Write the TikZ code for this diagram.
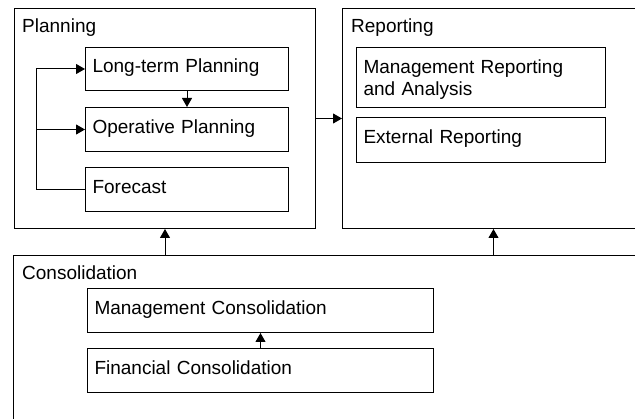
\documentclass[tikz,border=0pt]{standalone}
\usepackage{fontspec}
\setmainfont{Liberation Sans}
\usetikzlibrary{arrows.meta}
\begin{document}
\begin{tikzpicture}[x=1pt,y=-1pt,
  every node/.style={font=\fontsize{19}{22}\selectfont},
  outer/.style={draw, line width=1pt, anchor=north west, inner sep=0pt},
  box/.style={draw, line width=1pt, anchor=north west, inner xsep=7pt, inner ysep=0pt, align=left, minimum height=44pt, text height=13pt, text depth=5pt},
  title/.style={anchor=base west, inner sep=0pt},
  arr/.style={-{Triangle[length=9pt,width=10pt]}, line width=1pt},
  line/.style={line width=1pt}]
\useasboundingbox (0,0) rectangle (635,419);
\clip (0,0) rectangle (635,419);
\fill[white] (0,0) rectangle (635,419);
% outer boxes
\node[outer, minimum width=301pt, minimum height=220pt] (plan) at (14,8) {};
\node[outer, minimum width=302pt, minimum height=220pt] (report) at (342,8) {};
\node[outer, minimum width=660pt, minimum height=200pt] (cons) at (13,255) {};
% titles
\node[title] (plantitle) at (22,33) {Planning};
\node[title] (reporttitle) at (351,33) {Reporting};
\node[title] (constitle) at (22,280) {Consolidation};
% planning inner
\node[box, minimum width=203pt, text width=189pt, minimum height=43pt] (lt) at (85,47) {Long-term Planning};
\node[box, minimum width=203pt, text width=189pt] (op) at (85,107) {Operative Planning};
\node[box, minimum width=203pt, text width=189pt] (fc) at (85,167) {Forecast};
% reporting inner
\node[box, minimum width=249pt, text width=235pt, minimum height=60pt, text height=13pt, text depth=21pt] (mr) at (356,47) {Management Reporting\\and Analysis};
\node[box, minimum width=249pt, text width=235pt, minimum height=45pt] (er) at (356,117) {External Reporting};
% consolidation inner
\node[box, minimum width=346pt, text width=332pt] (mc) at (87,288) {Management Consolidation};
\node[box, minimum width=346pt, text width=332pt] (fin) at (87,348) {Financial Consolidation};
% connectors
\coordinate (bk) at (36,0);
\draw[arr] (lt) -- (op);
\draw[arr] (fc.west) -- (fc.west -| bk) |- (lt.west);
\draw[arr] (op.west -| bk) -- (op.west);
\draw[arr] (plan) -- (report);
\draw[arr] (cons.north -| plan.south) -- (plan.south);
\draw[arr] (cons.north -| report.south) -- (report.south);
\draw[arr] (fin) -- (mc);
\end{tikzpicture}
\end{document}
